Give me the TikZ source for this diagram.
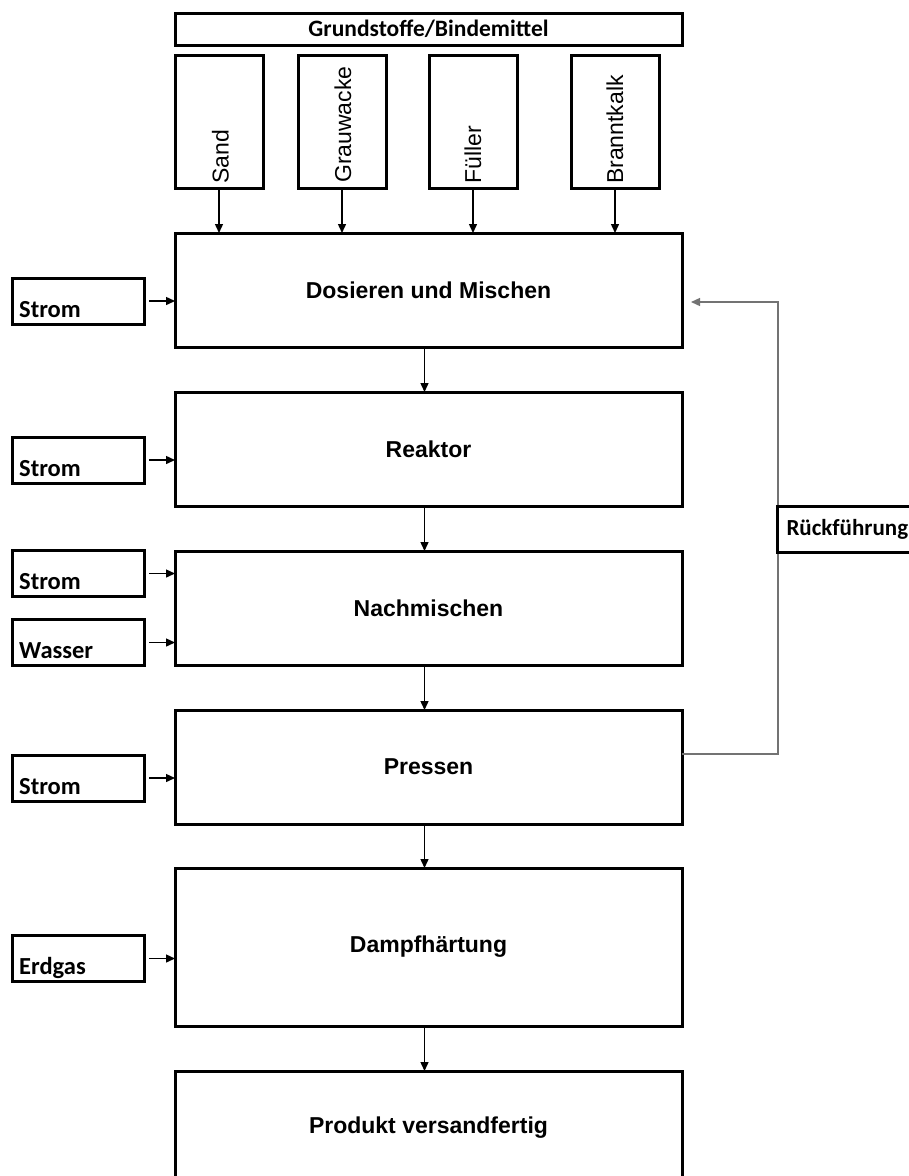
\documentclass[tikz,border=0pt]{standalone}
\usepackage{fontspec}
\setmainfont{Liberation Sans}
\newfontfamily\calibri{Carlito}
\usetikzlibrary{positioning,arrows.meta}

\begin{document}
\begin{tikzpicture}[x=1pt,y=-1pt,
  box/.style = {draw, line width=3pt, inner sep=0pt, outer sep=0pt, minimum width=507pt, minimum height=114pt, font=\fontsize{23}{27}\selectfont\bfseries},
  stoff/.style = {draw, line width=3pt, inner sep=0pt, outer sep=0pt, minimum width=88pt, minimum height=133pt},
  stofftxt/.style = {rotate=90, anchor=base west, inner sep=0pt, font=\fontsize{23}{27}\selectfont},
  side/.style = {draw, line width=3pt, inner sep=0pt, outer sep=0pt, minimum width=132pt, minimum height=46pt},
  sidetxt/.style = {anchor=base west, inner sep=0pt, font=\calibri\fontsize{24.5}{28}\selectfont\bfseries},
  flow/.style = {line width=1.4pt, -{Triangle[length=9pt,width=8pt]}},
  back/.style = {line width=1.4pt, black!55, -{Triangle[length=9pt,width=8pt]}}]
\useasboundingbox (0,0) rectangle (909,1176);

\node[box, minimum height=32pt, anchor=north west, font=\calibri\fontsize{23.5}{27}\selectfont\bfseries] (grund) at (175,13) {Grundstoffe/Bindemittel};
\node[stoff, below=10pt of grund.south west, anchor=north west] (sand) {};
\node[stoff, right=35pt of sand] (grau) {};
\node[stoff, right=43pt of grau] (fuell) {};
\node[stoff, right=54pt of fuell] (brannt) {};
\node[stofftxt] (sandtxt) at ([xshift=9.5pt,yshift=4pt]sand.south) {Sand};
\node[stofftxt] (grautxt) at ([xshift=9pt,yshift=5pt]grau.south) {Grauwacke};
\node[stofftxt] (fuelltxt) at ([xshift=8pt,yshift=4pt]fuell.south) {Füller};
\node[stofftxt] (branntxt) at ([xshift=8pt,yshift=4pt]brannt.south) {Branntkalk};

\node[box, below=45pt of sand.south west, anchor=north west] (dos) {Dosieren und Mischen};
\node[box, below=45pt of dos] (rea) {Reaktor};
\node[box, below=45pt of rea] (nach) {Nachmischen};
\node[box, below=45pt of nach] (pres) {Pressen};
\node[box, below=44pt of pres, minimum height=158pt] (damp) {Dampfhärtung};
\node[box, below=45pt of damp] (prod) {Produkt versandfertig};

\node[side, left=31pt of dos, yshift=-11pt] (s1) {};
\node[side, left=31pt of rea, yshift=-11pt] (s2) {};
\node[side, left=31pt of nach, yshift=34.5pt] (s3) {};
\node[side, left=31pt of nach, yshift=-34.5pt] (wasser) {};
\node[side, left=31pt of pres, yshift=-11pt] (s4) {};
\node[side, left=31pt of damp, yshift=-11.5pt] (erdgas) {};
\foreach \s/\t in {s1/Strom,s2/Strom,s3/Strom,wasser/Wasser,s4/Strom,erdgas/Erdgas}
  \node[sidetxt] (\s-txt) at ([xshift=7pt,yshift=7pt]\s.south west) {\t};

\foreach \m in {sand,grau,fuell,brannt}
  \draw[flow] (\m.south) -- (\m.south |- dos.north);
\foreach \a/\b in {dos/rea,rea/nach,nach/pres,pres/damp,damp/prod}
  \draw[flow] ([xshift=-4pt]\a.south) -- ([xshift=-4pt]\b.north);
\foreach \s/\m in {s1/dos,s2/rea,s3/nach,wasser/nach,s4/pres,erdgas/damp}
  \draw[flow] ([xshift=5pt]\s.east) -- (\s.east -| \m.west);

\draw[back] ([yshift=13pt]pres.east) -- ++(96,0) |- ([xshift=9pt,yshift=-12pt]dos.east);
\node[draw, line width=3pt, fill=white, anchor=west, minimum height=46pt, inner xsep=9pt, inner ysep=0pt, font=\calibri\fontsize{23}{27}\selectfont\bfseries] (rueck) at (776,529) {Rückführung};
\end{tikzpicture}
\end{document}
